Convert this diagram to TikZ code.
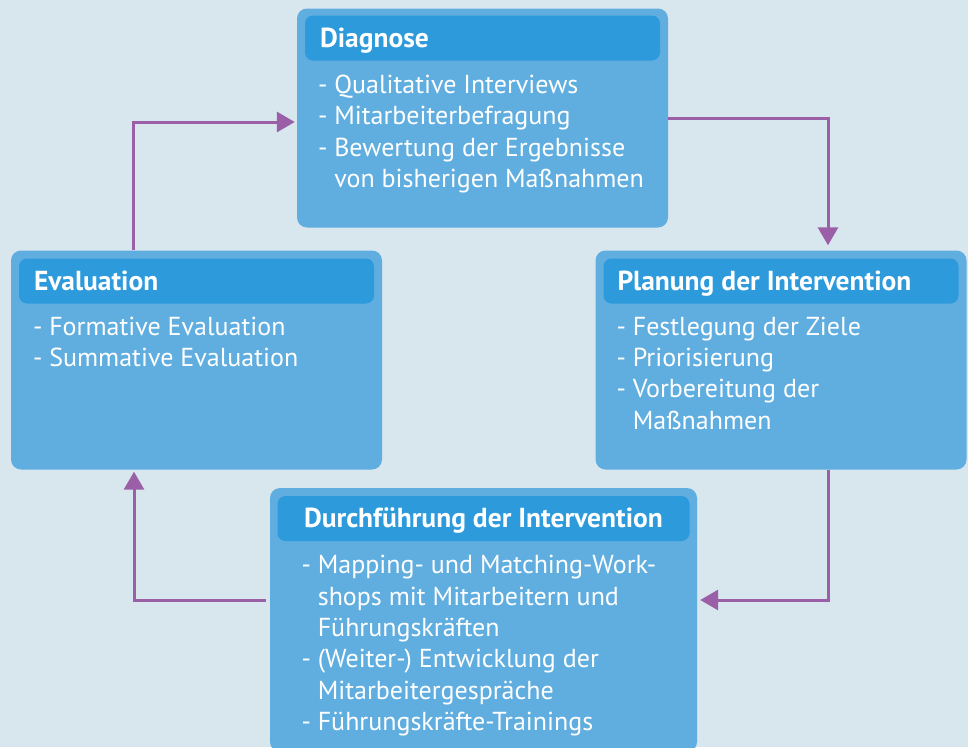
\documentclass[tikz,border=0pt]{standalone}
\usepackage{fontspec}
\setmainfont{PT Sans}
\usetikzlibrary{arrows.meta,positioning}
\definecolor{bgcol}{HTML}{D8E6EE}
\definecolor{boxcol}{HTML}{60AEE0}
\definecolor{headcol}{HTML}{2D9ADC}
\definecolor{flowcol}{HTML}{9B5FA8}
\newcommand{\ind}{\phantom{- }}
\begin{document}
\begin{tikzpicture}[x=1pt,y=-1pt,
  stage/.style={fill=boxcol,rounded corners=10pt,inner sep=0pt,minimum width=371pt,minimum height=219pt},
  head/.style={fill=headcol,rounded corners=8pt,inner sep=0pt,minimum width=355pt,minimum height=45pt},
  title/.style={text=white,font=\fontsize{27.5}{30}\selectfont\bfseries,inner sep=0pt,anchor=base west},
  items/.style={text=white,font=\fontsize{26}{31.3}\selectfont,align=left,inner sep=0pt,anchor=north west,execute at begin node=\strut}]
		%Background
		\useasboundingbox (0,0) rectangle (968,747);
		\fill[bgcol] (0,0) rectangle (968,747);
		%Diagnose
		\node[stage] (diag) at (482.5,118) {};
		\node[head,below=7pt of diag.north] (diaghead) {};
		\node[title] (diagtitle) at ([xshift=15pt,yshift=-9pt]diaghead.west) {Diagnose};
		\node[items] (diagitems) at ([xshift=13pt,yshift=-14pt]diaghead.south west) {- Qualitative Interviews\\- Mitarbeiterbefragung\\- Bewertung der Ergebnisse\\\ind von bisherigen Maßnahmen};
		%Planung
		\node[stage] (plan) at (781,360) {};
		\node[head,below=8pt of plan.north] (planhead) {};
		\node[title] (plantitle) at ([xshift=14pt,yshift=-9pt]planhead.west) {Planung der Intervention};
		\node[items] (planitems) at ([xshift=13pt,yshift=-13pt]planhead.south west) {- Festlegung der Ziele\\- Priorisierung\\- Vorbereitung der\\\ind Maßnahmen};
		%Evaluation
		\node[stage] (eval) at (196.5,360) {};
		\node[head,below=8pt of eval.north] (evalhead) {};
		\node[title] (evaltitle) at ([xshift=15pt,yshift=-9pt]evalhead.west) {Evaluation};
		\node[items] (evalitems) at ([xshift=14pt,yshift=-13pt]evalhead.south west) {- Formative Evaluation\\- Summative Evaluation};
		%Durchfuehrung
		\node[stage,minimum width=427pt,minimum height=264pt] (durch) at (483.5,620) {};
		\node[head,minimum width=412pt,below=8pt of durch.north] (durchhead) {};
		\node[title,anchor=base] (durchtitle) at ([yshift=-9pt]durchhead.center) {Durchführung der Intervention};
		\node[items] (durchitems) at ([xshift=24pt,yshift=-14pt]durchhead.south west) {- Mapping- und Matching-Work-\\\ind shops mit Mitarbeitern und\\\ind Führungskräften\\- (Weiter-) Entwicklung der\\\ind Mitarbeitergespräche\\- Führungskräfte-Trainings};
		%Arrows
		\begin{scope}[draw=flowcol,line width=3pt,-{Triangle[length=18pt,width=20pt]}]
		\draw ([xshift=-63.5pt]eval.north) |- ([xshift=-2pt,yshift=-4pt]diag.west);
		\draw (diag.east) -| ([xshift=47pt,yshift=5pt]plan.north);
		\draw ([xshift=47pt]plan.south) |- ([xshift=3pt,yshift=20pt]durch.east);
		\draw ([xshift=-4pt,yshift=20pt]durch.west) -| ([xshift=-62.5pt,yshift=-2pt]eval.south);
		\end{scope}
\end{tikzpicture}
\end{document}
